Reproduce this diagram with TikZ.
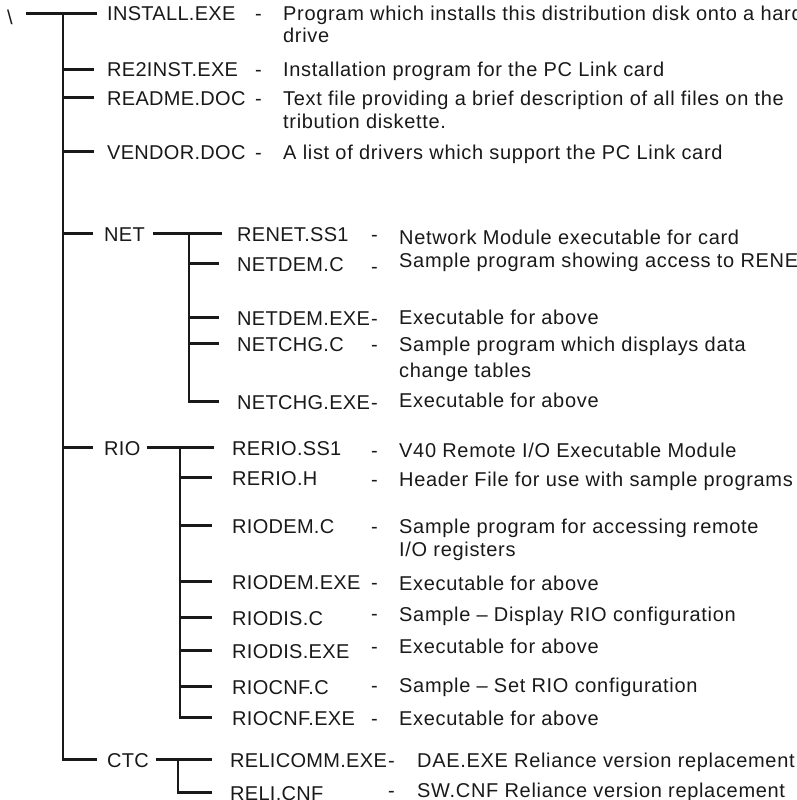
\documentclass[tikz,border=0pt]{standalone}
\usepackage{fontspec}
\setmainfont{Liberation Sans}
\newfontfamily\namefont[LetterSpace=1.5]{Liberation Sans}
\newfontfamily\descfont[LetterSpace=3.4]{Liberation Sans}
\newcommand{\treesize}{\fontsize{20}{22.5}\selectfont}
\begin{document}
\begin{tikzpicture}[x=1pt, y=-1pt, font=\treesize]
    \tikzset{
        tline/.style={draw=black!90, line width=2.8pt},
        fname/.style={anchor=base west, inner sep=0pt, text height=15pt, text depth=0pt, text=black!90, font=\namefont\treesize},
        desc/.style={anchor=base west, inner sep=0pt, align=left, text=black!90, font=\descfont\treesize},
        sepmark/.style={anchor=base west, inner sep=0pt, text=black!90}
    }
    \useasboundingbox (0,0) rectangle (796,800);

    % root directory
    \node[sepmark] (root) at (7,25) {\textbackslash};
    \node[fname] (install) at (107,21) {INSTALL.EXE};
    \node[fname] (re2inst) at (107,77) {RE2INST.EXE};
    \node[fname] (readme) at (107,105) {README.DOC};
    \node[fname] (vendor) at (107,159) {VENDOR.DOC};
    \node[fname] (net) at (104,241) {NET};
    \node[fname] (rio) at (104,455) {RIO};
    \node[fname] (ctc) at (107,767) {CTC};
    \coordinate (trunk) at (63,0);

    \node[sepmark] (installsep) at (255,21) {-};
    \node[sepmark] (re2instsep) at (255,77) {-};
    \node[sepmark] (readmesep) at (255,105) {-};
    \node[sepmark] (vendorsep) at (255,159) {-};
    \node[desc] (installtxt) at (283,43) {Program which installs this distribution disk onto a hard\\drive};
    \node[desc] (re2insttxt) at (283,77) {Installation program for the PC Link card};
    \node[desc] (readmetxt) at (283,128) {Text file providing a brief description of all files on the\\[0.5pt]tribution diskette.};
    \node[desc] (vendortxt) at (283,159) {A list of drivers which support the PC Link card};

    \draw[tline] ([xshift=13pt]root.east |- install.west) -- ([xshift=-10pt]install.west);
    \draw[tline] (trunk |- install.west) |- ([xshift=-10pt]ctc.west);
    \draw[tline] (trunk |- re2inst.west) -- ([xshift=-13pt]re2inst.west);
    \draw[tline] (trunk |- readme.west) -- ([xshift=-13pt]readme.west);
    \draw[tline] (trunk |- vendor.west) -- ([xshift=-13pt]vendor.west);
    \draw[tline] (trunk |- net.west) -- ([xshift=-11pt]net.west);
    \draw[tline] (trunk |- rio.west) -- ([xshift=-11pt]rio.west);

    % NET subdirectory
    \node[fname] (renet) at (237,241) {RENET.SS1};
    \node[fname] (netdemc) at (237,271) {NETDEM.C};
    \node[fname] (netdemexe) at (237,325) {NETDEM.EXE};
    \node[fname] (netchgc) at (237,351) {NETCHG.C};
    \node[fname] (netchgexe) at (237,409) {NETCHG.EXE};
    \coordinate (netbar) at (189,0);

    \node[sepmark] (renetsep) at (371,241) {-};
    \node[sepmark] (netdemcsep) at (371,273) {-};
    \node[sepmark] (netdemexesep) at (371,325) {-};
    \node[sepmark] (netchgcsep) at (371,351) {-};
    \node[sepmark] (netchgexesep) at (371,409) {-};
    \node[desc] (renettxt) at (399,244) {Network Module executable for card};
    \node[desc] (netdemctxt) at (399,267) {Sample program showing access to RENET.SS1};
    \node[desc] (netdemexetxt) at (399,324) {Executable for above};
    \node[desc] (netchgctxt) at (399,377) {Sample program which displays data\\[3.5pt]change tables};
    \node[desc] (netchgexetxt) at (399,407) {Executable for above};

    \draw[tline] ([xshift=8pt]net.east) -- ([xshift=-15pt]renet.west);
    \draw[tline] (netbar |- net.west) |- ([xshift=-18pt]netchgexe.west);
    \draw[tline] (netbar |- netdemc.west) -- ([xshift=-18pt]netdemc.west);
    \draw[tline] (netbar |- netdemexe.west) -- ([xshift=-18pt]netdemexe.west);
    \draw[tline] (netbar |- netchgc.west) -- ([xshift=-18pt]netchgc.west);

    % RIO subdirectory
    \node[fname] (rerioss) at (232,455) {RERIO.SS1};
    \node[fname] (rerioh) at (232,485) {RERIO.H};
    \node[fname] (riodemc) at (232,533) {RIODEM.C};
    \node[fname] (riodemexe) at (232,589) {RIODEM.EXE};
    \node[fname] (riodisc) at (232,625) {RIODIS.C};
    \node[fname] (riodisexe) at (232,658) {RIODIS.EXE};
    \node[fname] (riocnfc) at (232,694) {RIOCNF.C};
    \node[fname] (riocnfexe) at (232,725) {RIOCNF.EXE};
    \coordinate (riobar) at (180,0);

    \node[sepmark] (reriosssep) at (371,457) {-};
    \node[sepmark] (reriohsep) at (371,486) {-};
    \node[sepmark] (riodemcsep) at (371,533) {-};
    \node[sepmark] (riodemexesep) at (371,589) {-};
    \node[sepmark] (riodiscsep) at (371,620) {-};
    \node[sepmark] (riodisexesep) at (371,653) {-};
    \node[sepmark] (riocnfcsep) at (371,692) {-};
    \node[sepmark] (riocnfexesep) at (371,725) {-};
    \node[desc] (rerioss1txt) at (399,457) {V40 Remote I/O Executable Module};
    \node[desc] (reriohtxt) at (399,486) {Header File for use with sample programs};
    \node[desc] (riodemctxt) at (399,556) {Sample program for accessing remote\\[0.5pt]I/O registers};
    \node[desc] (riodemexetxt) at (399,590) {Executable for above};
    \node[desc] (riodisctxt) at (399,621) {Sample \textendash{} Display RIO configuration};
    \node[desc] (riodisexetxt) at (399,653) {Executable for above};
    \node[desc] (riocnfctxt) at (399,692) {Sample \textendash{} Set RIO configuration};
    \node[desc] (riocnfexetxt) at (399,725) {Executable for above};

    \draw[tline] ([xshift=6pt]rio.east) -- ([xshift=-18pt]rerioss.west);
    \draw[tline] (riobar |- rio.west) |- ([xshift=-20pt]riocnfexe.west);
    \draw[tline] (riobar |- rerioh.west) -- ([xshift=-20pt]rerioh.west);
    \draw[tline] (riobar |- riodemc.west) -- ([xshift=-20pt]riodemc.west);
    \draw[tline] (riobar |- riodemexe.west) -- ([xshift=-20pt]riodemexe.west);
    \draw[tline] (riobar |- riodisc.west) -- ([xshift=-20pt]riodisc.west);
    \draw[tline] (riobar |- riodisexe.west) -- ([xshift=-20pt]riodisexe.west);
    \draw[tline] (riobar |- riocnfc.west) -- ([xshift=-20pt]riocnfc.west);

    % CTC subdirectory
    \node[fname] (relicomm) at (230,767) {RELICOMM.EXE};
    \node[fname] (relicnf) at (230,800) {RELI.CNF};
    \coordinate (ctcbar) at (178,0);

    \node[sepmark] (relicommsep) at (388,767) {-};
    \node[sepmark] (relicnfsep) at (388,797) {-};
    \node[desc] (relicommtxt) at (417,767) {DAE.EXE Reliance version replacement};
    \node[desc] (relicnftxt) at (417,797) {SW.CNF Reliance version replacement};

    \draw[tline] ([xshift=7pt]ctc.east) -- ([xshift=-18pt]relicomm.west);
    \draw[tline] (ctcbar |- ctc.west) |- ([xshift=-18pt]relicnf.west);
\end{tikzpicture}
\end{document}
